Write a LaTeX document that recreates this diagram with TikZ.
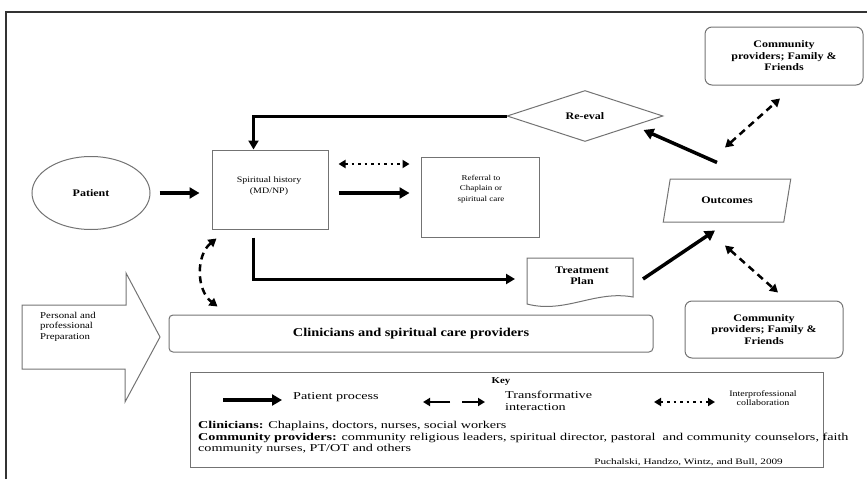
\documentclass[tikz,border=0pt]{standalone}
\usepackage{fontspec}
\setmainfont{Liberation Serif}[FakeStretch=1.2]
\newfontfamily\widefont{Liberation Serif}[FakeStretch=1.35]
\usetikzlibrary{shapes.geometric,arrows.meta,calc}
\begin{document}
\begin{tikzpicture}[x=1pt,y=-1pt,
  box/.style={draw=black!55, line width=1pt, inner sep=0pt},
  proc/.style={line width=3.5pt, -{Triangle[length=10pt,width=11pt]}},
  procthin/.style={line width=3pt, -{Triangle[length=9pt,width=10pt]}},
  dasharr/.style={line width=2.5pt, dash pattern=on 7pt off 5pt, {Triangle[length=8pt,width=9pt]}-{Triangle[length=8pt,width=9pt]}},
  dotarr/.style={line width=2.5pt, dash pattern=on 2.5pt off 4pt, {Triangle[length=7pt,width=8pt]}-{Triangle[length=7pt,width=8pt]}},
  bl/.style={font=\bfseries\fontsize{10}{11.5}\selectfont, align=center},
  sm/.style={font=\fontsize{7.5}{10.5}\selectfont, align=center, inner sep=0pt},
  keytxt/.style={font=\widefont\fontsize{10.5}{11.7}\selectfont, inner sep=0pt}]
\useasboundingbox (0,0) rectangle (867,479);
\draw[line width=1.5pt, black!80] (6,479) -- (6,12) -- (867,12);

% main nodes
\node[box, ellipse, minimum width=118pt, minimum height=73pt, bl] (patient) at (91,193) {Patient};
\node[box, minimum width=116pt, minimum height=79pt] (spirit) at (270,189.5) {};
\node[sm, font=\fontsize{8.3}{10.5}\selectfont] (spirittxt) at (269,186) {Spiritual history\\(MD/NP)};
\node[box, minimum width=118pt, minimum height=80pt] (referral) at (480,197) {};
\node[sm] (referraltxt) at (481,189) {Referral to\\Chaplain or\\spiritual care};
\node[box, diamond, aspect=3, minimum width=156pt, minimum height=51pt, bl] (reeval) at (585,116) {Re-eval};
\node[box, trapezium, trapezium left angle=65, trapezium right angle=115, trapezium stretches=true, minimum width=128pt, minimum height=43pt, bl] (outcomes) at (727,200.5) {Outcomes};
\node[box, rounded corners=7pt, minimum width=158pt, minimum height=58pt, bl] (commtop) at (784,56) {Community\\providers; Family \&\\Friends};
\node[box, rounded corners=7pt, minimum width=158pt, minimum height=57pt, bl] (commbot) at (764,329.5) {Community\\providers; Family \&\\Friends};
\node[box, rounded corners=4pt, minimum width=484pt, minimum height=37pt, font=\bfseries\fontsize{12}{14}\selectfont] (clin) at (411,333.5) {Clinicians and spiritual care providers};

% treatment plan (document shape)
\coordinate (treatnw) at (527,258);
\draw[box] (treatnw) -- (633,258) -- (633,297) .. controls (595,290) and (565,314) .. (527,304) -- cycle;
\node[font=\bfseries\fontsize{10}{11}\selectfont, align=center, inner sep=0pt] (treat) at (582,276) {Treatment\\Plan};

% block arrow
\draw[box] (22,305) -- (126,305) -- (126,273) -- (160,337) -- (125,402) -- (125,369) -- (22,369) -- cycle;
\node[align=left, anchor=north west, inner sep=0pt, font=\fontsize{9}{10.5}\selectfont] (prep) at (40,312) {Personal and\\professional\\Preparation};

% connectors
\draw[proc] ($(patient.east)+(9,0)$) -- ($(spirit.west)+(-12,3.5)$);
\draw[proc] ($(spirit.east)+(10,3.5)$) -- ($(referral.west)+(-11,-4)$);
\draw[dotarr] ($(spirit.east)+(10,-25.5)$) -- ($(referral.west)+(-11,-33)$);
\draw[procthin] (reeval.west) -| ($(spirit.north west)+(42,0)$);
\draw[proc] ($(outcomes.north)+(-10,-16)$) -- ($(reeval.east)+(-20,14)$);
\draw[proc] ($(treatnw)+(116,21)$) -- ($(outcomes.south)+(-12,8)$);
\draw[dasharr] ($(outcomes.north)+(-2,-31)$) -- ($(commtop.south)+(-4,13)$);
\draw[dasharr] ($(outcomes.south)+(-2,23)$) -- ($(commbot.north)+(14,-8)$);
\draw[procthin] ($(spirit.south west)+(42,8)$) |- ($(treatnw)+(-12,21)$);
\draw[dasharr] ($(spirit.south west)+(5,9)$) .. controls (196,255) and (196,290) .. ($(clin.north west)+(49,-8)$);

% key
\node[box, minimum width=633pt, minimum height=95pt] (key) at (506.5,419.5) {};
\node[font=\bfseries\fontsize{9}{11}\selectfont, inner sep=0pt] (keyt) at (501,382) {Key};
\coordinate (k1a) at (223,400); \coordinate (k1b) at (282,400);
\draw[proc] (k1a) -- (k1b);
\node[keytxt, anchor=west] (kpp) at (293,397) {Patient process};
\coordinate (k2a) at (450,402); \coordinate (k2b) at (423,402);
\coordinate (k2c) at (462,402); \coordinate (k2d) at (485,402);
\draw[line width=2.5pt, -{Triangle[length=7pt,width=8pt]}] (k2a) -- (k2b);
\draw[line width=2.5pt, -{Triangle[length=7pt,width=8pt]}] (k2c) -- (k2d);
\node[keytxt, anchor=north west, align=left] (kti) at (505,391) {Transformative\\interaction};
\coordinate (k3a) at (654,402); \coordinate (k3b) at (715,402);
\draw[dotarr] (k3a) -- (k3b);
\node[font=\fontsize{8.3}{9}\selectfont, align=center, inner sep=0pt] (kic) at (763,398.5) {Interprofessional\\collaboration};
\node[keytxt, anchor=north west, align=left] (kdef) at (198,421) {\textbf{Clinicians:} Chaplains, doctors, nurses, social workers\\\textbf{Community providers:} community religious leaders, spiritual director, pastoral\ \ and community counselors, faith\\community nurses, PT/OT and others};
\node[font=\widefont\fontsize{8.3}{11}\selectfont, anchor=base east, inner sep=0pt] (cite) at (783,464) {Puchalski, Handzo, Wintz, and Bull, 2009};
\end{tikzpicture}
\end{document}
